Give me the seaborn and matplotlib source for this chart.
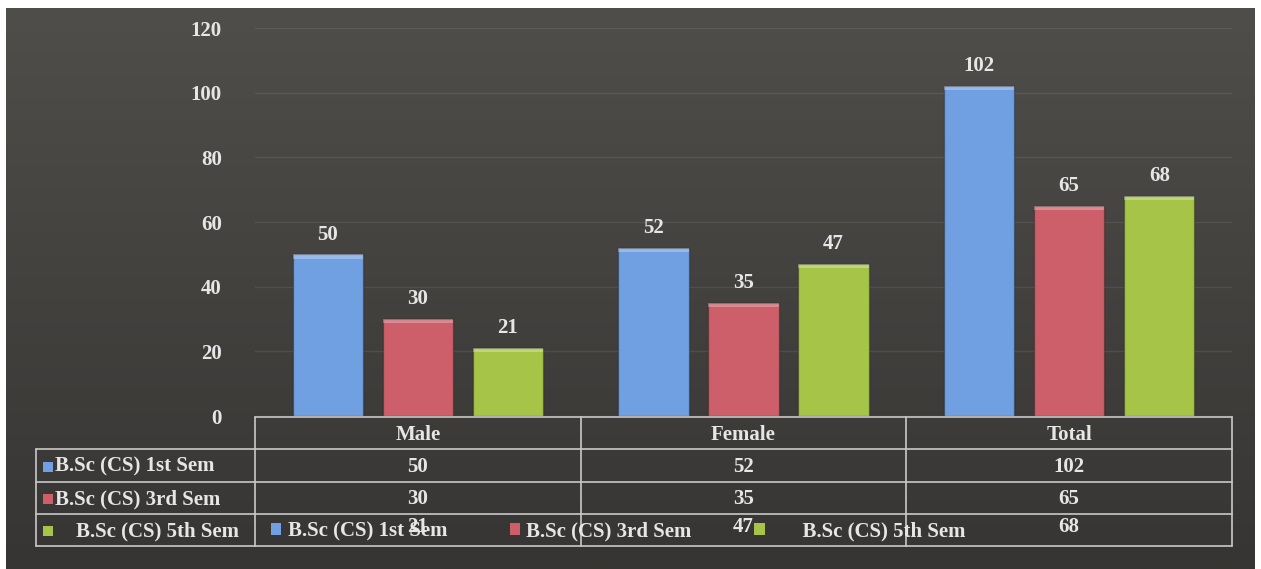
import numpy as np
import pandas as pd
import matplotlib
matplotlib.use("Agg")
import matplotlib.pyplot as plt
from matplotlib.lines import Line2D
from matplotlib.patches import Rectangle, Patch
import seaborn as sns

# ---- data -------------------------------------------------------------
groups = ["Male", "Female", "Total"]
courses = ["B.Sc (CS) 1st Sem", "B.Sc (CS) 3rd Sem", "B.Sc (CS) 5th Sem"]
sem1 = [50, 52, 102]
sem3 = [30, 35, 65]
sem5 = [21, 47, 68]
y_ticks = [0, 20, 40, 60, 80, 100, 120]

colors = ["#70a0e2", "#cc5f69", "#a6c548"]
text_col = "#e6e6e6"
line_col = "#c9c9c9"

df = pd.DataFrame({
    "group": groups * 3,
    "course": [c for c in courses for _ in groups],
    "count": sem1 + sem3 + sem5,
})

# ---- figure -----------------------------------------------------------
W, H = 1261, 569
sns.set_theme(style="white")
plt.rcParams["font.family"] = ["Liberation Serif", "DejaVu Serif"]
plt.rcParams["font.weight"] = "bold"

fig = plt.figure(figsize=(W / 100, H / 100), dpi=100, facecolor="white")


def fx(px):
    return px / W


def fy(py):
    return 1 - py / H


# dark chart-area backdrop with a soft top-to-bottom shading
bg = fig.add_axes([fx(6), fy(569), fx(1255) - fx(6), fy(8) - fy(569)], zorder=-10)
shade = np.linspace(0, 1, 256)[:, None]
top_c = np.array([0x50, 0x4e, 0x4b]) / 255
bot_c = np.array([0x37, 0x35, 0x33]) / 255
grad = top_c[None, None, :] * (1 - shade[..., None]) + bot_c[None, None, :] * shade[..., None]
bg.imshow(np.repeat(grad, 2, axis=1), aspect="auto", extent=[0, 1, 0, 1])
bg.set_axis_off()

# ---- bars -------------------------------------------------------------
ax = fig.add_axes([fx(255), fy(416), fx(1232) - fx(255), fy(28) - fy(416)])
ax.set_facecolor("none")
sns.barplot(data=df, x="group", y="count", hue="course", hue_order=courses,
            order=groups, palette=colors, saturation=1, width=0.83, gap=0.22,
            legend=False, ax=ax, edgecolor="none", zorder=3)
ax.set_xlim(-0.5, len(groups) - 0.5)
ax.set_ylim(0, 120)
ax.set_yticks(y_ticks)
ax.set_yticklabels([str(t) for t in y_ticks], color=text_col, fontsize=15,
                   fontweight="bold")
ax.tick_params(axis="y", length=0, pad=24)
ax.tick_params(axis="x", length=0, labelbottom=False)
ax.set_xlabel("")
ax.set_ylabel("")
for s in ax.spines.values():
    s.set_visible(False)
ax.grid(axis="y", color="white", alpha=0.08, lw=1, zorder=0)
ax.grid(axis="x", visible=False)

# bevel highlight along each bar's top edge and darker outline
for cont, col in zip(ax.containers, colors):
    for p in cont:
        x0, w, h = p.get_x(), p.get_width(), p.get_height()
        ax.add_patch(Rectangle((x0, h - 1.3), w, 1.3, facecolor="white",
                               alpha=0.28, edgecolor="none", zorder=4))
        p.set_edgecolor(matplotlib.colors.to_rgba("black", 0.25))
        p.set_linewidth(1.0)
    ax.bar_label(cont, padding=7, color=text_col, fontsize=15,
                 fontweight="bold")

# ---- data table -------------------------------------------------------
def data_x(v):
    return fig.transFigure.inverted().transform(ax.transData.transform((v, 0)))[0]


col_edges = [data_x(i - 0.5) for i in range(len(groups) + 1)]
col_centers = [data_x(i) for i in range(len(groups))]
row_lines = [417, 449, 482, 514, 546]
left_edge = fx(36)


def hline(y, x0, x1):
    fig.add_artist(Line2D([x0, x1], [fy(y), fy(y)], color=line_col, lw=1.2))


def vline(x, y0, y1):
    fig.add_artist(Line2D([x, x], [fy(y0), fy(y1)], color=line_col, lw=1.2))


hline(row_lines[0], col_edges[0], col_edges[-1])
for y in row_lines[1:]:
    hline(y, left_edge, col_edges[-1])
vline(left_edge, row_lines[1], row_lines[-1])
for xe in col_edges:
    vline(xe, row_lines[0], row_lines[-1])

row_y = [(a + b) / 2 for a, b in zip(row_lines[:-1], row_lines[1:])]
txt = dict(color=text_col, fontsize=15, fontweight="bold", va="center")

for g, xc in zip(groups, col_centers):
    fig.text(xc, fy(row_y[0] + 2), g, ha="center", **txt)

series = [sem1, sem3, sem5]
row_labels = [courses[0], courses[1], "    " + courses[2]]
for r, (vals, lab, col) in enumerate(zip(series, row_labels, colors)):
    yc = row_y[r + 1] + 1
    fig.add_artist(Rectangle((fx(43), fy(yc + 5)), fx(10), fy(yc - 5) - fy(yc + 5),
                             transform=fig.transFigure, facecolor=col,
                             edgecolor="none"))
    fig.text(fx(55), fy(yc), lab, ha="left", **txt)
    dy = -4 if r == 2 else 0
    for v, xc in zip(vals, col_centers):
        fig.text(xc, fy(yc + dy), str(v), ha="center", **txt)

# ---- legend -----------------------------------------------------------
handles = [Patch(facecolor=c, edgecolor="none") for c in colors]
leg_labels = [courses[0], courses[1], "      " + courses[2]]
fig.legend(handles, leg_labels, ncol=3, loc="center left",
           bbox_to_anchor=(fx(271), fy(531)), frameon=False,
           prop={"family": "Liberation Serif", "weight": "bold", "size": 15},
           labelcolor=text_col, handlelength=0.5, handleheight=0.5,
           handletextpad=0.3, columnspacing=3.0, borderpad=0, borderaxespad=0)

fig.savefig("out.png", dpi=100, facecolor="white")
